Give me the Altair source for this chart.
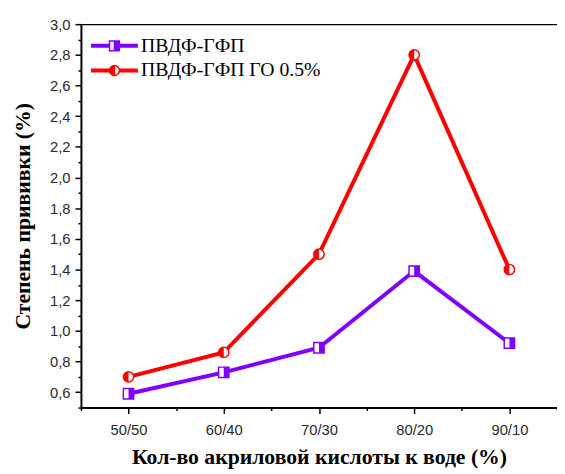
import altair as alt
import pandas as pd

categories = ["50/50", "60/40", "70/30", "80/20", "90/10"]
pvdf = [0.59, 0.73, 0.89, 1.39, 0.92]
pvdf_go = [0.70, 0.86, 1.50, 2.80, 1.40]
series_names = ["ПВДФ-ГФП", "ПВДФ-ГФП ГО 0.5%"]
series_colors = ["#8000FF", "#FF0000"]
y_major = [0.6, 0.8, 1.0, 1.2, 1.4, 1.6, 1.8, 2.0, 2.2, 2.4, 2.6, 2.8, 3.0]
y_minor = [0.5, 0.7, 0.9, 1.1, 1.3, 1.5, 1.7, 1.9, 2.1, 2.3, 2.5, 2.7, 2.9]
x_major = [1, 2, 3, 4, 5]
x_minor = [0.5, 1.5, 2.5, 3.5, 4.5, 5.5]

rows = []
for name, vals in zip(series_names, [pvdf, pvdf_go]):
    for i, (c, v) in enumerate(zip(categories, vals)):
        rows.append({"series": name, "pos": x_major[i], "cat": c, "value": v})
df = pd.DataFrame(rows)
legend_df = pd.DataFrame({"series": series_names, "pos": [None, None], "value": [None, None]})

x_scale = alt.Scale(domain=[0.5, 5.5], nice=False, zero=False)
y_scale = alt.Scale(domain=[0.5, 3.0], nice=False, zero=False)
color_scale = alt.Scale(domain=series_names, range=series_colors)

label_expr_x = "[" + ",".join("'" + c + "'" for c in [""] + categories) + "][datum.value]"

common_axis = dict(grid=False, domainColor="black", tickColor="black",
                   labelFont="Liberation Sans", labelFontSize=15, labelColor="#2a2a2a",
                   titleFont="Liberation Serif", titleFontSize=22, titleFontWeight="bold",
                   titleColor="black", labelFlush=False, labelOverlap=False)

x_major_axis = alt.Axis(orient="bottom", values=x_major, labelExpr=label_expr_x,
                        tickSize=6, tickWidth=1.5, domainWidth=2, labelPadding=9,
                        title="Кол-во акриловой кислоты к воде (%)", titlePadding=10,
                        **common_axis)
x_minor_axis = alt.Axis(orient="bottom", values=x_minor, labels=False, tickSize=3,
                        tickWidth=1.5, domain=False, title=None, grid=False, tickColor="black")
x_top_axis = alt.Axis(orient="top", labels=False, ticks=False, domain=True, domainWidth=1.2,
                      domainColor="black", title=None, grid=False)
y_major_axis = alt.Axis(orient="left", values=y_major,
                        labelExpr="replace(format(datum.value, '.1f'), '.', ',')",
                        tickSize=6, tickWidth=1.5, domainWidth=2, labelPadding=5,
                        title="Степень прививки (%)", titlePadding=15, **common_axis)
y_minor_axis = alt.Axis(orient="left", values=y_minor, labels=False, tickSize=3,
                        tickWidth=1.5, domain=False, title=None, grid=False, tickColor="black")

LEG_SQ = ("M-4.6,-0.25H-1V0.25H-4.6Z M1,-0.25H4.6V0.25H1Z "
          "M0,-1H1V1H0Z M0,-1H-1V1H0H-1V-1Z")
LEG_CI = ("M-4.6,-0.25H-1V0.25H-4.6Z M1,-0.25H4.6V0.25H1Z "
          "M0,-1A1,1,0,0,0,0,1Z M0,-1A1,1,0,0,1,0,1A1,1,0,0,0,0,-1Z")
HALF_SQ = "M0,-1H1V1H0Z"
HALF_CI = "M0,-1A1,1,0,0,0,0,1Z"
FULL_CI = "M1,0A1,1,0,1,1,-1,0A1,1,0,1,1,1,0Z"
full_shapes = ["square", FULL_CI]
half_shapes = [HALF_SQ, HALF_CI]

base = alt.Chart(df)

legend_props = dict(title=None, orient="none", legendX=24, legendY=12, padding=0,
                    symbolSize=100, symbolStrokeWidth=1.5, labelFont="Liberation Serif",
                    labelFontSize=20, labelColor="black", labelOffset=17, rowPadding=5,
                    symbolOpacity=1, labelLimit=0)

legend_layer = alt.Chart(legend_df).mark_point(filled=True, opacity=1, size=100,
                                               strokeWidth=1.5).encode(
    x=alt.X("pos:Q", scale=x_scale, axis=x_minor_axis),
    y=alt.Y("value:Q", scale=y_scale, axis=y_minor_axis),
    fill=alt.Fill("series:N", scale=color_scale, legend=alt.Legend(**legend_props)),
    stroke=alt.Stroke("series:N", scale=color_scale, legend=alt.Legend(**legend_props)),
    shape=alt.Shape("series:N", scale=alt.Scale(domain=series_names, range=[LEG_SQ, LEG_CI]),
                    legend=alt.Legend(**legend_props)),
)

line_layers = []
marker_layers = []
for k, (name, col) in enumerate(zip(series_names, series_colors)):
    sub = base.transform_filter(alt.datum.series == name)
    line = sub.mark_line(strokeWidth=4, color=col).encode(
        x=alt.X("pos:Q", scale=x_scale, axis=x_major_axis if k == 0 else None),
        y=alt.Y("value:Q", scale=y_scale, axis=y_major_axis if k == 0 else None),
    )
    line_layers.append(line)
    outline = sub.mark_point(shape=full_shapes[k], filled=True, fill="white", stroke=col,
                             strokeWidth=1.5, size=110, opacity=1).encode(
        x=alt.X("pos:Q", scale=x_scale, axis=x_top_axis if k == 0 else None),
        y=alt.Y("value:Q", scale=y_scale, axis=None),
    )
    half = sub.mark_point(shape=half_shapes[k], filled=True, fill=col, strokeWidth=0,
                          size=110, opacity=1).encode(
        x=alt.X("pos:Q", scale=x_scale, axis=None),
        y=alt.Y("value:Q", scale=y_scale, axis=None),
    )
    marker_layers += [outline, half]

chart = alt.layer(*line_layers, legend_layer, *marker_layers).resolve_axis(
    x="independent", y="independent"
).properties(
    width=483, height=389,
    padding={"left": 74, "top": 13, "right": 0, "bottom": 64},
    autosize=alt.AutoSizeParams(type="none"),
    background="white",
).configure_view(stroke=None)

chart.save("out.html", embed_options={"renderer": "svg", "actions": False})
